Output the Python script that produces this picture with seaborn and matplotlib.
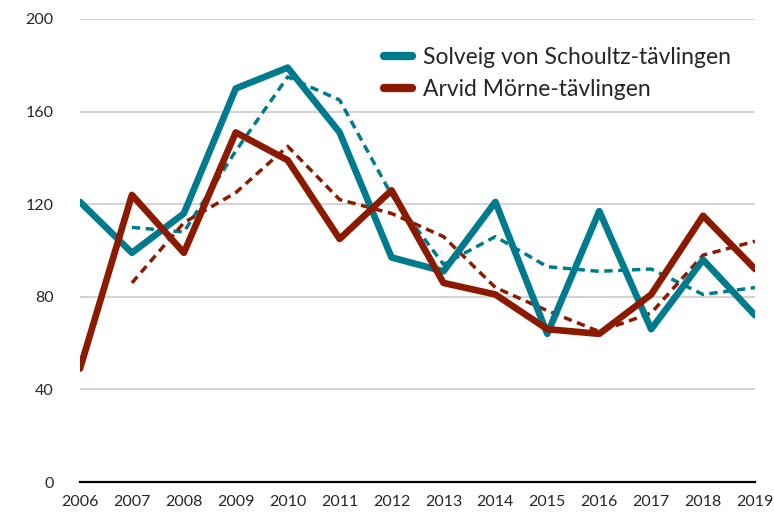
import pandas as pd
import seaborn as sb
import matplotlib.pyplot as plt

# values
years = list(range(2006, 2020))
solveig = [121, 99, 116, 170, 179, 151, 97, 91, 121, 64, 117, 66, 96, 72]
arvid = [49, 124, 99, 151, 139, 105, 126, 86, 81, 66, 64, 81, 115, 92]

# dashed trend lines (start at 2007)
trend_years = list(range(2007, 2020))
solveig_trend = [110, 108, 143, 175, 165, 124, 94, 106, 93, 91, 92, 81, 84]
arvid_trend = [86, 112, 125, 145, 122, 116, 106, 84, 74, 65, 73, 98, 104]

names = ['Solveig von Schoultz-tävlingen', 'Arvid Mörne-tävlingen']
colors = ['#007b8d', '#8b1a00']

solid = pd.DataFrame({'year': years * 2,
                      'value': solveig + arvid,
                      'serie': [names[0]] * len(years) + [names[1]] * len(years)})
dashed = pd.DataFrame({'year': trend_years * 2,
                       'value': solveig_trend + arvid_trend,
                       'serie': [names[0]] * len(trend_years) + [names[1]] * len(trend_years)})

sb.set_style('white')
plt.rcParams['font.family'] = ['Lato', 'DejaVu Sans']

fig = plt.figure(figsize=(7.74, 5.15), dpi=100)
ax = fig.add_axes([80 / 774, 1 - 482 / 515, 675 / 774, 463 / 515])

palette = dict(zip(names, colors))
sb.lineplot(data=dashed, x='year', y='value', hue='serie', palette=palette,
            linewidth=2.5, linestyle=(0, (2.4, 1.6)), legend=False, ax=ax)
sb.lineplot(data=solid, x='year', y='value', hue='serie', palette=palette,
            linewidth=4.8, ax=ax)

ax.set_xlim(2006, 2019)
ax.set_ylim(0, 200)
ax.set_yticks([0, 40, 80, 120, 160, 200])
ax.set_xticks(years)
ax.set_xlabel('')
ax.set_ylabel('')
ax.grid(axis='y', color='#d0d0d0', linewidth=1.3)
ax.set_axisbelow(True)
for s in ['top', 'right', 'left']:
    ax.spines[s].set_visible(False)
ax.spines['bottom'].set_color('black')
ax.spines['bottom'].set_linewidth(1.6)
ax.tick_params(axis='y', length=0, pad=19, labelsize=11.5)
ax.tick_params(axis='x', length=0, pad=9, labelsize=11.5)

leg = ax.legend(loc='upper left', bbox_to_anchor=(0.42, 0.985), frameon=False,
                fontsize=16.5, handlelength=1.2, handletextpad=0.5, labelspacing=0.5)
for line in leg.get_lines():
    line.set_linewidth(6)

plt.savefig('out.png', dpi=100)
